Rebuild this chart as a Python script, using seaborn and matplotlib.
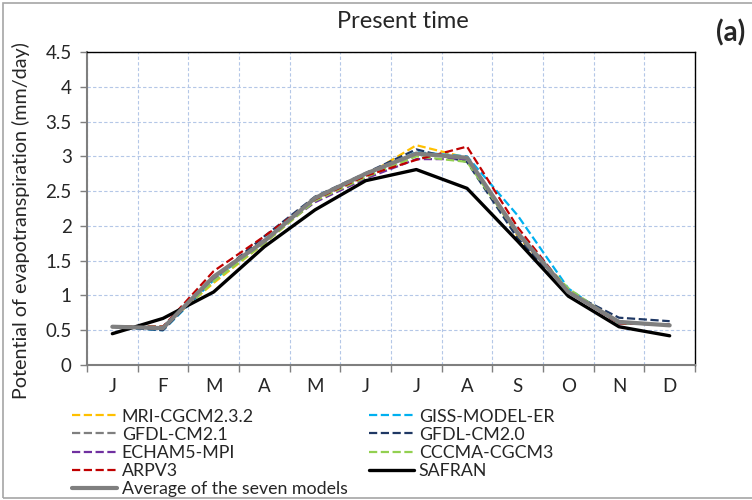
import matplotlib
matplotlib.use("Agg")
import matplotlib.pyplot as plt
from matplotlib.patches import Rectangle
import seaborn as sns
import pandas as pd

months = ["J", "F", "M", "A", "M", "J", "J", "A", "S", "O", "N", "D"]

mri = [0.55, 0.55, 1.18, 1.75, 2.36, 2.72, 3.16, 2.98, 1.85, 1.08, 0.60, 0.58]
giss = [0.55, 0.50, 1.22, 1.80, 2.40, 2.74, 3.06, 3.00, 2.15, 1.10, 0.60, 0.58]
gfdl21 = [0.55, 0.55, 1.22, 1.80, 2.38, 2.72, 3.04, 2.97, 1.88, 1.05, 0.60, 0.58]
gfdl20 = [0.55, 0.50, 1.25, 1.85, 2.42, 2.76, 3.10, 2.92, 1.82, 1.05, 0.68, 0.63]
echam = [0.55, 0.55, 1.25, 1.80, 2.34, 2.68, 2.96, 2.96, 1.88, 1.05, 0.60, 0.58]
cccma = [0.55, 0.55, 1.20, 1.75, 2.36, 2.70, 3.00, 2.92, 1.88, 1.10, 0.60, 0.58]
arpv3 = [0.55, 0.55, 1.35, 1.85, 2.38, 2.72, 2.95, 3.14, 1.98, 1.05, 0.60, 0.58]
safran = [0.45, 0.67, 1.05, 1.70, 2.23, 2.65, 2.81, 2.54, 1.78, 0.99, 0.55, 0.42]
average = [0.55, 0.53, 1.27, 1.78, 2.40, 2.75, 3.04, 2.98, 1.90, 1.05, 0.62, 0.57]

series = [
    ("MRI-CGCM2.3.2", mri, "#FFC000", "--", 1.6),
    ("GISS-MODEL-ER", giss, "#00B0F0", "--", 1.6),
    ("GFDL-CM2.1", gfdl21, "#7F7F7F", "--", 1.6),
    ("GFDL-CM2.0", gfdl20, "#1F3864", "--", 1.6),
    ("ECHAM5-MPI", echam, "#7030A0", "--", 1.6),
    ("CCCMA-CGCM3", cccma, "#92D050", "--", 1.6),
    ("ARPV3", arpv3, "#C00000", "--", 1.6),
    ("SAFRAN", safran, "#000000", "-", 2.4),
    ("Average of the seven models", average, "#7F7F7F", "-", 3.0),
]

sns.set_theme(style="white")
plt.rcParams["font.family"] = ["Lato", "DejaVu Sans"]

fig = plt.figure(figsize=(7.52, 5.0), dpi=100)
ax = fig.add_axes([87 / 752, 1 - 365 / 500, (695 - 87) / 752, (365 - 52) / 500])

x = list(range(len(months)))
handles = {}
for name, vals, col, ls, lw in series:
    df = pd.DataFrame({"x": x, "y": vals})
    kw = dict(dashes=(3, 1.6)) if ls == "--" else {}
    sns.lineplot(data=df, x="x", y="y", ax=ax, color=col, linewidth=lw,
                 linestyle=ls, label=name, legend=False, **kw)
    handles[name] = ax.lines[-1]

ax.set_xlim(-0.5, 11.5)
ax.set_ylim(0, 4.5)
ax.set_xticks(x)
ax.set_xticklabels(months, fontsize=13.5)
ax.set_xticks([i - 0.5 for i in range(13)], minor=True)
ax.tick_params(axis="x", which="major", length=0, pad=9)
ax.tick_params(axis="x", which="minor", length=5, width=1, color="#7F7F7F", direction="out", bottom=True)
yt = [0, 0.5, 1, 1.5, 2, 2.5, 3, 3.5, 4, 4.5]
ax.set_yticks(yt)
ax.set_yticklabels(["0", "0.5", "1", "1.5", "2", "2.5", "3", "3.5", "4", "4.5"], fontsize=13.5)
ax.tick_params(axis="y", which="major", length=5, width=1, color="#7F7F7F", direction="out", left=True, pad=6)

ax.grid(False)
ax.grid(True, which="minor", axis="x", color="#B4C7E7", linestyle=(0, (3, 2)), linewidth=0.8)
ax.grid(True, which="major", axis="y", color="#B4C7E7", linestyle=(0, (3, 2)), linewidth=0.8)
ax.set_axisbelow(True)

ax.set_xlabel("")
ax.set_ylabel("Potential of evapotranspiration (mm/day)", fontsize=14.2)
ax.yaxis.set_label_coords(-0.093, 0.46)
for s in ["left", "bottom"]:
    ax.spines[s].set_color("#7F7F7F")
    ax.spines[s].set_linewidth(1.5)
for s in ["top", "right"]:
    ax.spines[s].set_color("#000000")
    ax.spines[s].set_linewidth(1.0)

fig.text(403 / 752, 1 - 21 / 500, "Present time", ha="center", va="center", fontsize=17)
fig.text(731 / 752, 1 - 33 / 500, "(a)", ha="center", va="center", fontsize=20, fontweight="bold")

order = ["MRI-CGCM2.3.2", "GFDL-CM2.1", "ECHAM5-MPI", "ARPV3", "Average of the seven models",
         "GISS-MODEL-ER", "GFDL-CM2.0", "CCCMA-CGCM3", "SAFRAN"]
leg = fig.legend([handles[n] for n in order], order, ncol=2, loc="upper left",
                 bbox_to_anchor=(72 / 752, 1 - 408.5 / 500), frameon=False, fontsize=12.8,
                 handlelength=2.55, handletextpad=0.25, columnspacing=1.2,
                 labelspacing=0.12, borderpad=0, borderaxespad=0)

fig.patches.append(Rectangle((0.004, 0.004), 1.2, 0.99, transform=fig.transFigure,
                             fill=False, edgecolor="#A6A6A6", linewidth=1.2))

fig.savefig("out.png", dpi=100)
